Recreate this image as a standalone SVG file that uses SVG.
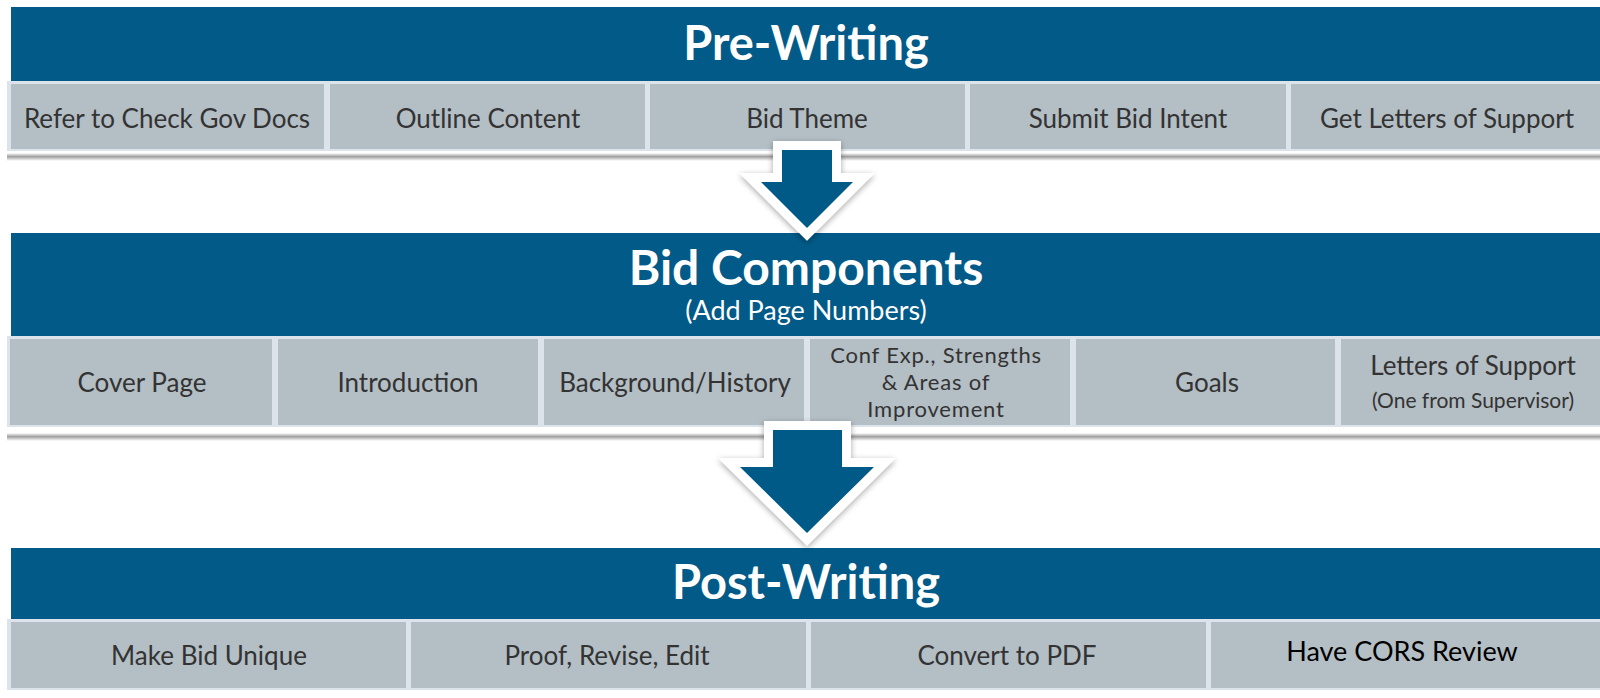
<svg xmlns="http://www.w3.org/2000/svg" width="1600" height="698" viewBox="0 0 1600 698">
<defs>
<style>
.band{fill:#015a88}
.frame{fill:#dde3ea}
.cell{fill:#b4bec5}
.t{font-family:Lato,"Open Sans","Liberation Sans",sans-serif;font-size:26px;fill:#333;text-anchor:middle}
.c{font-size:22px;letter-spacing:0.8px}
.h{font-family:Lato,"Open Sans","Liberation Sans",sans-serif;font-weight:bold;font-size:47px;fill:#fff;text-anchor:middle}
.arrow{fill:#015a88;stroke:#fff;stroke-width:18;stroke-linejoin:miter;paint-order:stroke}
</style>
<linearGradient id="sh" x1="0" y1="0" x2="0" y2="1">
<stop offset="0" stop-color="#ffffff"/>
<stop offset="0.45" stop-color="#a0a0a0"/>
<stop offset="1" stop-color="#ffffff"/>
</linearGradient>
<filter id="ds" x="-20%" y="-20%" width="140%" height="140%">
<feGaussianBlur in="SourceAlpha" stdDeviation="3"/>
<feOffset dx="0" dy="2" result="b"/>
<feComponentTransfer><feFuncA type="linear" slope="0.35"/></feComponentTransfer>
<feMerge><feMergeNode/><feMergeNode in="SourceGraphic"/></feMerge>
</filter>
</defs>
<rect width="1600" height="698" fill="#fff"/>

<g id="shadows">
<rect x="7" y="153" width="1593" height="8" fill="url(#sh)"/>
<rect x="7" y="433" width="1593" height="8" fill="url(#sh)"/>
</g>

<g id="pre-writing">
<rect class="band" x="11" y="7" width="1589" height="74"/>
<text class="h" x="806" y="60">Pre-Writing</text>
<rect class="frame" x="7" y="81" width="1593" height="70"/>
<g id="pre-1"><rect class="cell" x="11" y="84" width="313" height="65"/><text class="t" x="167" y="128">Refer to Check Gov Docs</text></g>
<g id="pre-2"><rect class="cell" x="330" y="84" width="315" height="65"/><text class="t" x="488" y="128">Outline Content</text></g>
<g id="pre-3"><rect class="cell" x="650" y="84" width="315" height="65"/><text class="t" x="807" y="128">Bid Theme</text></g>
<g id="pre-4"><rect class="cell" x="970" y="84" width="316" height="65"/><text class="t" x="1128" y="128">Submit Bid Intent</text></g>
<g id="pre-5"><rect class="cell" x="1291" y="84" width="309" height="65"/><text class="t" x="1447" y="128">Get Letters of Support</text></g>
</g>

<g id="bid-components">
<rect class="band" x="11" y="233" width="1589" height="103"/>
<text class="h" x="806" y="285" style="font-size:48px">Bid Components</text>
<text class="t" x="806" y="320" style="fill:#fff;font-size:27px">(Add Page Numbers)</text>
<rect class="frame" x="7" y="336" width="1593" height="91"/>
<g id="bid-1"><rect class="cell" x="10" y="339" width="262" height="86"/><text class="t" x="142" y="392">Cover Page</text></g>
<g id="bid-2"><rect class="cell" x="278" y="339" width="260" height="86"/><text class="t" x="408" y="392">Introduction</text></g>
<g id="bid-3"><rect class="cell" x="544" y="339" width="260" height="86"/><text class="t" x="675" y="392">Background/History</text></g>
<g id="bid-4"><rect class="cell" x="810" y="339" width="260" height="86"/>
<text class="t c" x="936" y="363">Conf Exp., Strengths</text>
<text class="t c" x="936" y="390">&amp; Areas of</text>
<text class="t c" x="936" y="417">Improvement</text></g>
<g id="bid-5"><rect class="cell" x="1076" y="339" width="259" height="86"/><text class="t" x="1207" y="392">Goals</text></g>
<g id="bid-6"><rect class="cell" x="1341" y="339" width="259" height="86"/>
<text class="t" x="1473" y="375">Letters of Support</text>
<text class="t" x="1473" y="408" style="font-size:21px">(One from Supervisor)</text></g>
</g>

<g id="post-writing">
<rect class="band" x="11" y="548" width="1589" height="71"/>
<text class="h" x="806" y="599">Post-Writing</text>
<rect class="frame" x="7" y="619" width="1593" height="71"/>
<g id="post-1"><rect class="cell" x="11" y="622" width="395" height="66"/><text class="t" x="209" y="665">Make Bid Unique</text></g>
<g id="post-2"><rect class="cell" x="411" y="622" width="395" height="66"/><text class="t" x="607" y="665">Proof, Revise, Edit</text></g>
<g id="post-3"><rect class="cell" x="811" y="622" width="395" height="66"/><text class="t" x="1007" y="665">Convert to PDF</text></g>
<g id="post-4"><rect class="cell" x="1211" y="622" width="389" height="66"/>
<text class="t" x="1402" y="661" style="fill:#000;font-size:27px">Have CORS Review</text></g>
</g>

<g id="connectors" filter="url(#ds)">
<polygon class="arrow" points="782,150 832,150 832,182 853,182 807,228 761,182 782,182"/>
<polygon class="arrow" points="773,430 842,430 842,467 874,467 807,533 740,467 773,467"/>
</g>
</svg>
